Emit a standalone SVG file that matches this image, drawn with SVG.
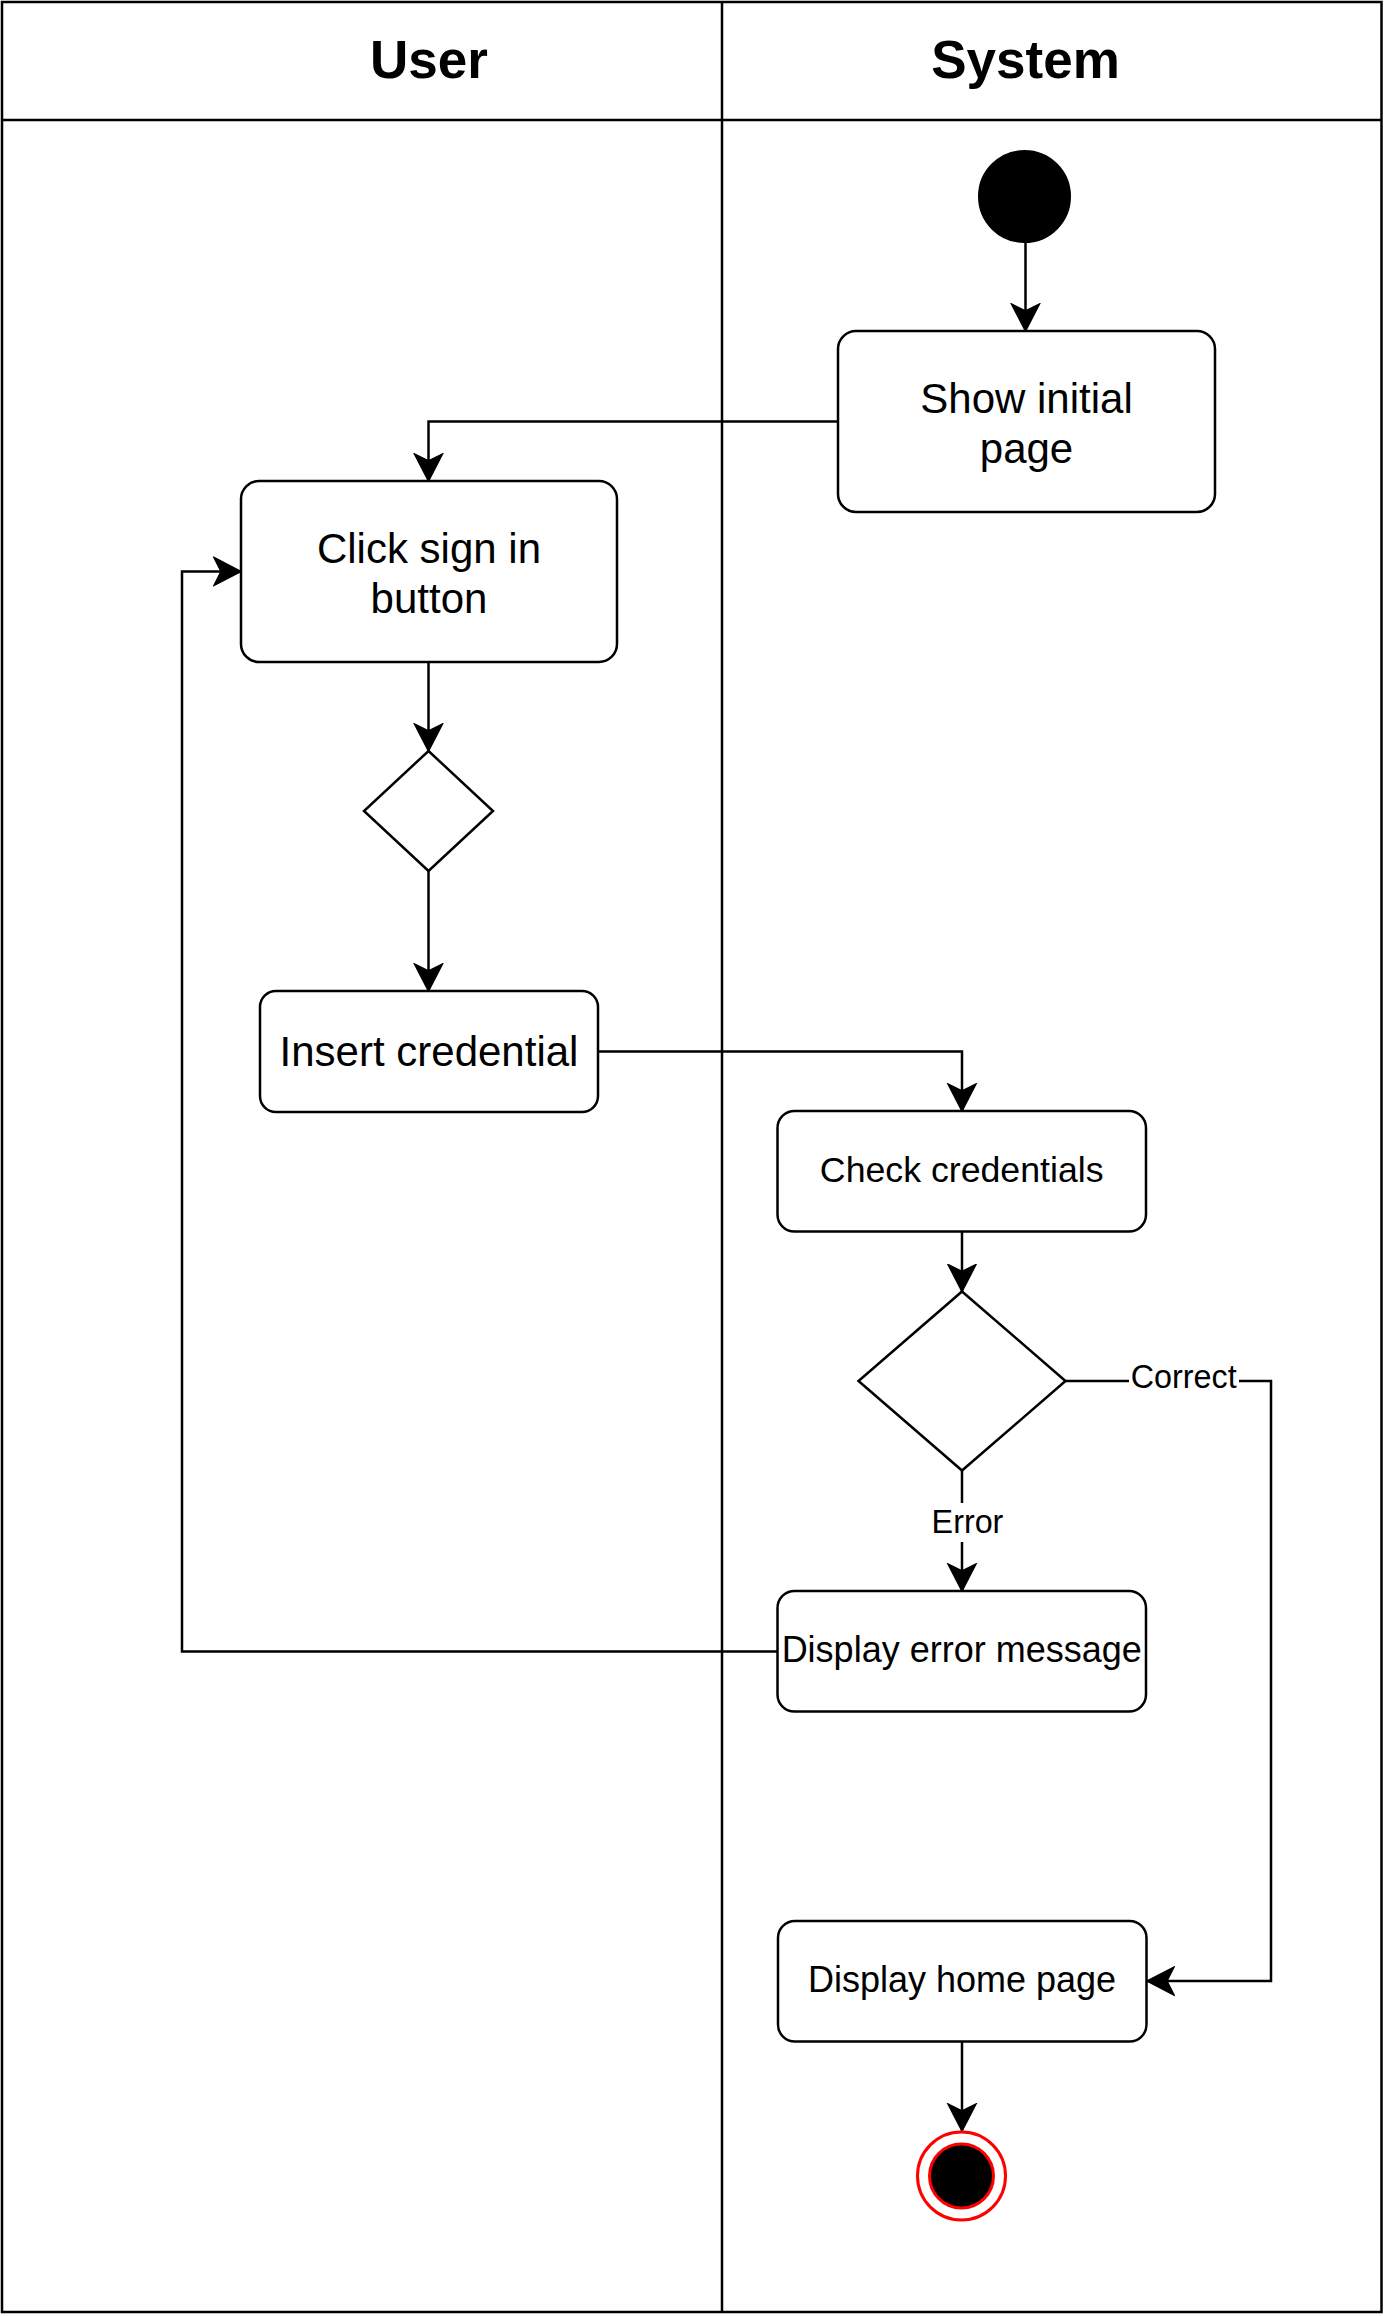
<svg xmlns="http://www.w3.org/2000/svg" width="1386" height="2316" viewBox="0 0 1386 2316">
  <style>
    .lane { fill: none; stroke: #000; stroke-width: 2.5; }
    .box { fill: #fff; stroke: #000; stroke-width: 2.5; }
    .conn { fill: none; stroke: #000; stroke-width: 2.5; }
    .hdr { font-family: "Liberation Sans", Arial, sans-serif; font-weight: bold; font-size: 53px; text-anchor: middle; fill: #000; }
    .t40 { font-family: "Liberation Sans", Arial, sans-serif; font-size: 42px; text-anchor: middle; fill: #000; }
    .t35 { font-family: "Liberation Sans", Arial, sans-serif; font-size: 36px; text-anchor: middle; fill: #000; }
    .lbl { font-family: "Liberation Sans", Arial, sans-serif; font-size: 32.3px; text-anchor: middle; fill: #000; }
  </style>
  <defs>
    <marker id="arr" markerUnits="userSpaceOnUse" markerWidth="32" markerHeight="32" refX="28" refY="16" orient="auto">
      <path d="M1,2 L28,16 L1,30 L8,16 Z" fill="#000" stroke="#000" stroke-width="1.5" stroke-linejoin="miter"/>
    </marker>
  </defs>
  <rect width="1386" height="2316" fill="#fff"/>

  <g id="lanes">
    <rect class="lane" x="2" y="2" width="1379.5" height="2310"/>
    <line class="lane" x1="2" y1="120" x2="1381.5" y2="120"/>
    <line class="lane" x1="722" y1="2" x2="722" y2="2312"/>
    <text class="hdr" x="429" y="78">User</text>
    <text class="hdr" x="1025.5" y="78">System</text>
  </g>

  <g id="connectors">
    <path class="conn" d="M1025.5,242.5 L1025.5,331" marker-end="url(#arr)"/>
    <path class="conn" d="M838,421.5 L428.5,421.5 L428.5,481" marker-end="url(#arr)"/>
    <path class="conn" d="M428.5,662 L428.5,751" marker-end="url(#arr)"/>
    <path class="conn" d="M428.5,871 L428.5,991" marker-end="url(#arr)"/>
    <path class="conn" d="M598,1051.5 L962,1051.5 L962,1111" marker-end="url(#arr)"/>
    <path class="conn" d="M962,1231.5 L962,1291.5" marker-end="url(#arr)"/>
    <path class="conn" d="M962,1470.5 L962,1591" marker-end="url(#arr)"/>
    <path class="conn" d="M1065.5,1381 L1271,1381 L1271,1981 L1147,1981" marker-end="url(#arr)"/>
    <path class="conn" d="M777.5,1651.5 L182,1651.5 L182,571.5 L241,571.5" marker-end="url(#arr)"/>
    <path class="conn" d="M962,2042 L962,2131" marker-end="url(#arr)"/>
    <g id="label-error">
      <rect x="931" y="1503" width="73" height="39" fill="#fff"/>
      <text class="lbl" x="967.5" y="1532.7">Error</text>
    </g>
    <g id="label-correct">
      <rect x="1129" y="1362" width="110" height="38" fill="#fff"/>
      <text class="lbl" x="1183.7" y="1388">Correct</text>
    </g>
  </g>

  <g id="start">
    <circle cx="1024.5" cy="196.5" r="45.5" fill="#000" stroke="#000" stroke-width="2"/>
  </g>
  <g id="show-initial-page">
    <rect class="box" x="838" y="331" width="377" height="181" rx="18" ry="18"/>
    <text class="t40" x="1026.5" y="413">Show initial</text>
    <text class="t40" x="1026.5" y="463">page</text>
  </g>
  <g id="click-sign-in">
    <rect class="box" x="241" y="481" width="376" height="181" rx="18" ry="18"/>
    <text class="t40" x="429" y="563">Click sign in</text>
    <text class="t40" x="429" y="613">button</text>
  </g>
  <g id="decision-1">
    <polygon class="box" points="428.5,751 493,811 428.5,871 364,811"/>
  </g>
  <g id="insert-credential">
    <rect class="box" x="260" y="991" width="338" height="121" rx="16" ry="16"/>
    <text class="t40" x="429" y="1066">Insert credential</text>
  </g>
  <g id="check-credentials">
    <rect class="box" x="777.5" y="1111" width="368.5" height="120.5" rx="17" ry="17"/>
    <text class="t35" x="961.7" y="1182" style="font-size:35.7px">Check credentials</text>
  </g>
  <g id="decision-2">
    <polygon class="box" points="962,1291.5 1065.5,1381 962,1470.5 858.5,1381"/>
  </g>
  <g id="display-error-message">
    <rect class="box" x="777.5" y="1591" width="368.5" height="120.5" rx="17" ry="17"/>
    <text class="t35" x="961.7" y="1662">Display error message</text>
  </g>
  <g id="display-home-page">
    <rect class="box" x="778" y="1921" width="368.5" height="120.5" rx="17" ry="17"/>
    <text class="t35" x="962" y="1992">Display home page</text>
  </g>
  <g id="end">
    <circle cx="961.5" cy="2176" r="44" fill="#fff" stroke="#ff0000" stroke-width="3"/>
    <circle cx="961.5" cy="2176" r="32" fill="#000" stroke="#ff0000" stroke-width="3"/>
  </g>
</svg>
